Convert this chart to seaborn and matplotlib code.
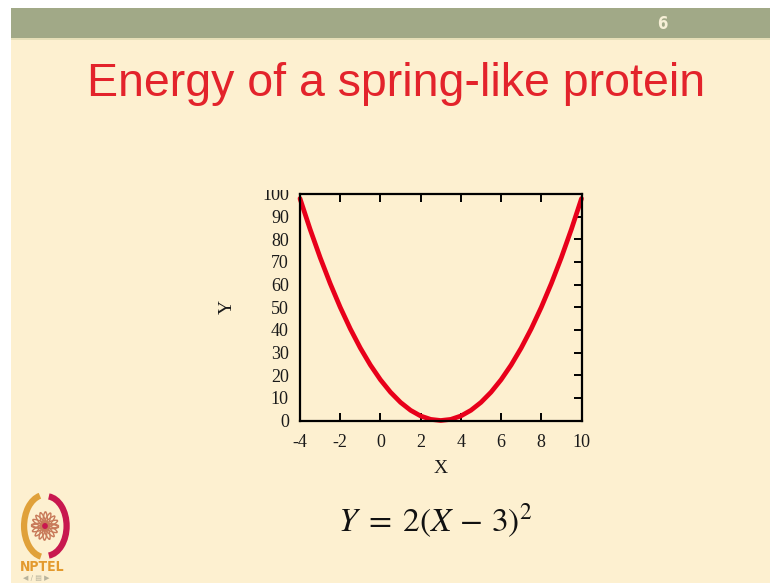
import math
import matplotlib
matplotlib.use("Agg")
import matplotlib.pyplot as plt
import matplotlib.patches as mpatches
from matplotlib import font_manager
import seaborn as sns
import pandas as pd

# Sampled points of the spring energy curve
x_vals = [-4, -3.5, -3, -2.5, -2, -1.5, -1, -0.5, 0, 0.5, 1, 1.5, 2, 2.5, 3,
          3.5, 4, 4.5, 5, 5.5, 6, 6.5, 7, 7.5, 8, 8.5, 9, 9.5, 10]
y_vals = [98, 84.5, 72, 60.5, 50, 40.5, 32, 24.5, 18, 12.5, 8, 4.5, 2, 0.5, 0,
          0.5, 2, 4.5, 8, 12.5, 18, 24.5, 32, 40.5, 50, 60.5, 72, 84.5, 98]
x_ticks = [-4, -2, 0, 2, 4, 6, 8, 10]
y_ticks = [0, 10, 20, 30, 40, 50, 60, 70, 80, 90, 100]

title_text = "Energy of a spring-like protein"
slide_number = "6"
formula_text = r"$Y\;=\;2(X\,-\,3)^2$"

sns.set_theme(style="white")
plt.rcParams["mathtext.fontset"] = "stix"

W, H = 770, 583
fig = plt.figure(figsize=(W / 100, H / 100), dpi=100)
fig.patch.set_facecolor("white")

cream = "#fdf0d0"
green = "#a1a987"

def fx(px):
    return px / W

def fy(py):
    return 1 - py / H

# Slide background and header band (kept beneath the axes)
fig.patches.append(mpatches.Rectangle((fx(11), 0), 1 - fx(11), fy(8), transform=fig.transFigure,
                                      facecolor=cream, edgecolor="none", zorder=-10))
fig.patches.append(mpatches.Rectangle((fx(11), fy(38)), 1 - fx(11), fy(8) - fy(38),
                                      transform=fig.transFigure, facecolor=green,
                                      edgecolor="none", zorder=-9))
fig.patches.append(mpatches.Rectangle((fx(11), fy(40)), 1 - fx(11), fy(38) - fy(40),
                                      transform=fig.transFigure, facecolor="#e6dfb8",
                                      edgecolor="none", zorder=-9))

fig.text(fx(662), fy(24), slide_number, color="#f6efd6", fontsize=12, fontweight="bold",
         ha="center", va="center", family="DejaVu Sans", stretch="condensed")

available = {f.name for f in font_manager.fontManager.ttflist}
if "Liberation Sans Narrow" in available:
    title_family, title_size = "Liberation Sans Narrow", 43
else:
    title_family, title_size = "Liberation Sans", 33.5
fig.text(fx(396), fy(84), title_text, color="#e3232b", fontsize=title_size,
         family=title_family, ha="center", va="center")

# Main plot area
ax = fig.add_axes([fx(300), fy(420.5), fx(581.5) - fx(300), fy(194) - fy(420.5)])
ax.set_facecolor(cream)
df = pd.DataFrame({"X": x_vals, "Y": y_vals})
sns.lineplot(data=df, x="X", y="Y", ax=ax, color="#e8001a", linewidth=3.4, clip_on=False)
ax.set_xlim(-4, 10)
ax.set_ylim(0, 100)
ax.set_xticks(x_ticks)
ax.set_yticks(y_ticks)
ax.set_xticklabels([str(t) for t in x_ticks])
ax.set_yticklabels([str(t) for t in y_ticks])
for s in ax.spines.values():
    s.set_visible(True)
    s.set_color("black")
    s.set_linewidth(1.6)
ax.tick_params(axis="x", direction="in", length=6, width=1.4, top=True, bottom=True,
               labelsize=13, pad=10, colors="black")
ax.tick_params(axis="y", direction="in", length=6, width=1.4, left=True, right=True,
               labelsize=13, pad=8, colors="black")
# only the right-hand y ticks are drawn
for tk in ax.yaxis.get_major_ticks():
    tk.tick1line.set_visible(False)
for lbl in ax.get_xticklabels() + ax.get_yticklabels():
    lbl.set_family("Liberation Serif")
    lbl.set_color("#1a1a1a")
ax.set_xlabel("X", family="Liberation Serif", fontsize=14, labelpad=6, color="#1a1a1a")
ax.set_ylabel("Y", family="Liberation Serif", fontsize=14, labelpad=19, color="#1a1a1a")

# The plot image is trimmed just above the frame, hiding the top of the "100" label
fig.patches.append(mpatches.Rectangle((fx(240), fy(190)), fx(298) - fx(240), fy(180) - fy(190),
                                      transform=fig.transFigure, facecolor=cream,
                                      edgecolor="none", zorder=5))

fig.text(fx(435), fy(521), formula_text, fontsize=24, ha="center", va="center",
         color="#111111")

# NPTEL emblem
lg = fig.add_axes([fx(18), fy(560), fx(72) - fx(18), fy(492) - fy(560)])
lg.set_xlim(-1, 1)
lg.set_ylim(-1.2, 1.2)
lg.axis("off")
lg.add_patch(mpatches.Arc((0, 0), 1.55, 2.2, theta1=100, theta2=262, color="#e0a13a", lw=4.5))
lg.add_patch(mpatches.Arc((0.05, 0), 1.5, 2.1, theta1=-85, theta2=85, color="#c8184f", lw=4.5))
for ang in range(0, 180, 22):
    lg.add_patch(mpatches.Ellipse((0, 0), 1.0, 0.18, angle=ang, facecolor="none",
                                  edgecolor="#c87a5a", lw=1.0))
lg.add_patch(mpatches.Circle((0, 0), 0.08, color="#c8184f"))
fig.text(fx(42), fy(567), "NPTEL", color="#e39a2e", fontsize=10, fontweight="bold",
         ha="center", va="center", family="DejaVu Sans", stretch="condensed")
fig.text(fx(36), fy(578), "\u25c0 / \u25a4 \u25b6", color="#b8b39c", fontsize=5,
         ha="center", va="center", family="DejaVu Sans")

fig.savefig("out.png", dpi=100, facecolor=fig.get_facecolor())
